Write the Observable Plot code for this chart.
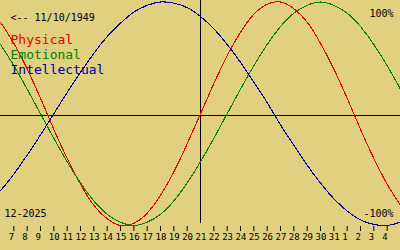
<!DOCTYPE html>
<html><head><meta charset="utf-8">
<script src="https://cdn.jsdelivr.net/npm/d3@7"></script>
<script src="https://cdn.jsdelivr.net/npm/@observablehq/plot@0.6"></script>
<style>
html,body{margin:0;padding:0;background:#e0d080;}
</style></head><body><div id="chart"></div>
<script>
// Day index: 6..31 = December 2025, 32..36 = January 2026
const days = [6,7,8,9,10,11,12,13,14,15,16,17,18,19,20,21,22,23,24,25,26,27,28,29,30,31,32,33,34,35,36];
const tickDays = [7,8,9,10,11,12,13,14,15,16,17,18,19,20,21,22,23,24,25,26,27,28,29,30,31,32,33,34,35];
const tickLabels = ["7","8","9","10","11","12","13","14","15","16","17","18","19","20","21","22","23","24","25","26","27","28","29","30","31","1","2","3","4"];
const today = 21;

const physical     = [0.82,0.63,0.40,0.14,-0.14,-0.40,-0.63,-0.82,-0.94,-1.00,-0.98,-0.89,-0.73,-0.52,-0.27,0.00,0.27,0.52,0.73,0.89,0.98,1.00,0.94,0.82,0.63,0.40,0.14,-0.14,-0.40,-0.63,-0.82];
const emotional    = [0.62,0.43,0.22,0.00,-0.22,-0.43,-0.62,-0.78,-0.90,-0.97,-1.00,-0.97,-0.90,-0.78,-0.62,-0.43,-0.22,0.00,0.22,0.43,0.62,0.78,0.90,0.97,1.00,0.97,0.90,0.78,0.62,0.43,0.22];
const intellectual = [-0.69,-0.54,-0.37,-0.19,0.00,0.19,0.37,0.54,0.69,0.81,0.91,0.97,1.00,0.99,0.95,0.87,0.76,0.62,0.46,0.28,0.10,-0.10,-0.28,-0.46,-0.62,-0.76,-0.87,-0.95,-0.99,-1.00,-0.97];

const seriesNames = ["Physical","Emotional","Intellectual"];
const seriesColors = ["#e00000","#008000","#0000a0"];
const birthLabel = "<-- 11/10/1949";
const monthLabel = "12-2025";
const topLabel = "100%";
const bottomLabel = "-100%";

const seriesValues = [physical, emotional, intellectual];
const rows = [];
seriesNames.forEach((name, s) => {
  days.forEach((d, i) => rows.push({day: d, value: seriesValues[s][i], series: name}));
});

const font = "DejaVu Sans Mono";

const chart = Plot.plot({
  width: 400,
  height: 250,
  marginTop: 0,
  marginLeft: 0,
  marginRight: 0,
  marginBottom: 24,
  style: {background: "#e0d080", fontFamily: font, fontSize: "10px", color: "black"},
  x: {domain: [6, 36], range: [0, 400], axis: null},
  y: {domain: [-1, 1], range: [225, 1.5], axis: null},
  color: {domain: seriesNames, range: seriesColors},
  marks: [
    Plot.ruleY([0], {stroke: "black", strokeWidth: 1, dy: 1.75}),
    Plot.ruleX([today], {stroke: "black", strokeWidth: 1, insetBottom: 3}),
    Plot.axisX(tickDays.filter(d => d !== today), {tickSize: 5, tickFormat: () => "", label: null, stroke: "black"}),
    Plot.axisX(tickDays, {tickSize: 0, tickPadding: 7.5, label: null, textAnchor: "start", dx: -5,
      tickFormat: d => tickLabels[tickDays.indexOf(d)], fill: "black", fontFamily: font, fontSize: 9}),
    Plot.line(rows, {x: "day", y: "value", z: "series", stroke: "series", curve: "natural", strokeWidth: 1.1, shapeRendering: "crispEdges"}),
    Plot.text([birthLabel], {frameAnchor: "top-left", textAnchor: "start", lineAnchor: "top", dx: 10, dy: 13.4, fontFamily: font, fontSize: 10, fill: "black"}),
    ...seriesNames.map((n, i) => Plot.text([n], {frameAnchor: "top-left", textAnchor: "start", lineAnchor: "top", dx: 10, dy: 33.8 + 15 * i, fontFamily: font, fontSize: 13, fill: seriesColors[i]})),
    Plot.text([topLabel], {frameAnchor: "top-right", textAnchor: "end", lineAnchor: "top", dx: -7, dy: 9.4, fontFamily: font, fontSize: 10, fill: "black"}),
    Plot.text([bottomLabel], {frameAnchor: "top-right", textAnchor: "end", lineAnchor: "top", dx: -7, dy: 208.9, fontFamily: font, fontSize: 10, fill: "black"}),
    Plot.text([monthLabel], {frameAnchor: "top-left", textAnchor: "start", lineAnchor: "top", dx: 4, dy: 208.9, fontFamily: font, fontSize: 10, fill: "black"})
  ]
});
document.getElementById("chart").appendChild(chart);
</script>
</body></html>
